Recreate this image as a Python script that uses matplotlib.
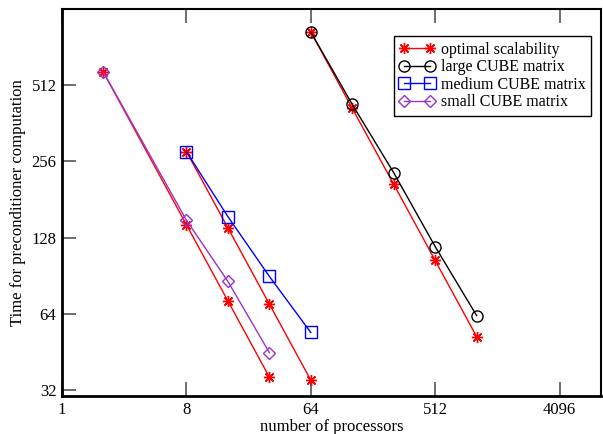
import matplotlib
matplotlib.use("Agg")
import matplotlib.pyplot as plt

# processor counts and timings
small_procs = [2, 8, 16, 32]
small_time = [576, 150, 86, 45]
small_opt = [576, 144, 72, 36]

medium_procs = [8, 16, 32, 64]
medium_time = [280, 155, 90, 54]
medium_opt = [280, 140, 70, 35]

large_procs = [64, 128, 256, 512, 1024]
large_time = [831, 430, 231, 118, 63]
large_opt = [831, 415, 208, 104, 52]

x_ticks = [1, 8, 64, 512, 4096]
y_ticks = [32, 64, 128, 256, 512]

plt.rcParams["font.family"] = ["Liberation Serif", "DejaVu Serif"]

fig = plt.figure(figsize=(6.03, 4.34), dpi=100)
ax = fig.add_axes([62 / 603, 1 - 396 / 434, 539 / 603, 387 / 434])

star = dict(color="red", marker=(8, 2, 0), markersize=8, lw=1.0, markeredgewidth=1.0)

ax.plot(small_procs, small_opt, **star, label="optimal scalability")
ax.plot(medium_procs, medium_opt, **star)
ax.plot(large_procs, large_opt, **star)

ax.plot(large_procs, large_time, color="black", marker="o", mfc="none", markersize=8,
        lw=1.0, label="large CUBE matrix")
ax.plot(medium_procs, medium_time, color="blue", marker="s", mfc="none", markersize=9,
        lw=1.0, label="medium CUBE matrix")
ax.plot(small_procs, small_time, color="#9a32cd", marker="D", mfc="none", markersize=6,
        lw=1.0, label="small CUBE matrix")

ax.set_xscale("log", base=2)
ax.set_yscale("log", base=2)
ax.set_xlim(1, 8192)
ax.set_ylim(30.3, 1024)
ax.set_xticks(x_ticks)
ax.set_xticklabels([str(v) for v in x_ticks])
ax.set_yticks(y_ticks)
ax.set_yticklabels([str(v) for v in y_ticks])
ax.minorticks_off()
ax.tick_params(direction="in", length=10, width=1.2, top=True, labelsize=12,
               color="#555555", pad=4)

for s in ax.spines.values():
    s.set_linewidth(1.5)
ax.spines["left"].set_linewidth(2)
ax.spines["bottom"].set_linewidth(2)

ax.set_xlabel("number of processors", fontsize=12, labelpad=1)
ax.set_ylabel("Time for preconditioner computation", fontsize=12, labelpad=4)

leg = ax.legend(loc="upper right", bbox_to_anchor=(0.982, 0.93), fontsize=11.5,
                fancybox=False, edgecolor="black", framealpha=1, borderpad=0.35,
                labelspacing=0.1, handlelength=2.2, handletextpad=0.4, numpoints=2,
                borderaxespad=0)
leg.get_frame().set_linewidth(1.0)

fig.savefig("out.png", dpi=100)
